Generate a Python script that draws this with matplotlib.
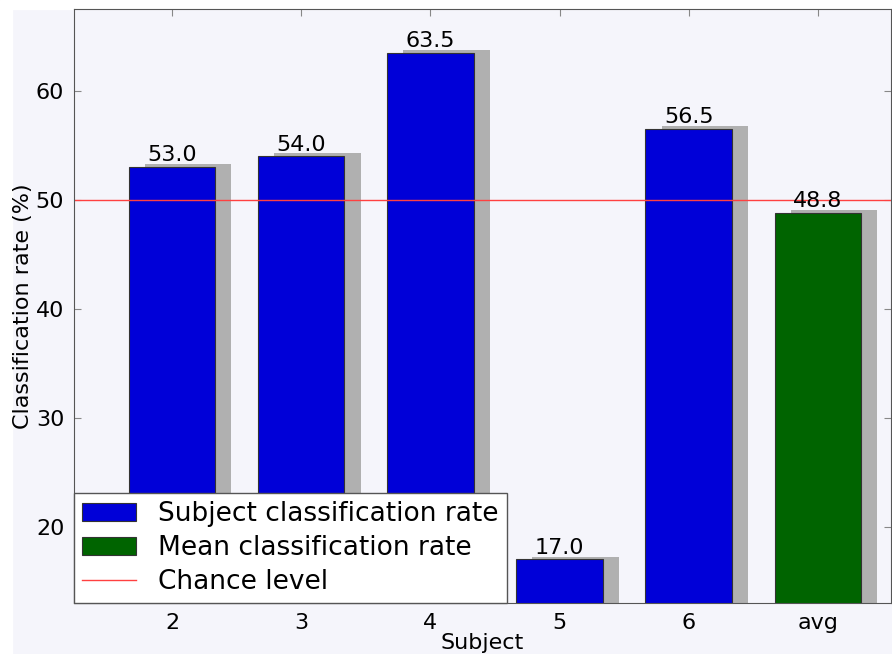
import numpy as np
import matplotlib
matplotlib.use('Agg')
from matplotlib import pyplot as plt
from matplotlib.patches import Patch, Rectangle
from matplotlib.lines import Line2D

subjects = ['2', '3', '4', '5', '6', 'avg']
rates = [53.0, 54.0, 63.5, 17.0, 56.5, 48.8]
bar_colors = ['#0000d8', '#0000d8', '#0000d8', '#0000d8', '#0000d8', '#006400']
chance = 50

bg = '#f5f5fb'
fig = plt.figure(figsize=(8.92, 6.54), dpi=100, facecolor=bg)
ax = fig.add_axes([74 / 892, 51 / 654, 817 / 892, 594 / 654])
ax.set_facecolor(bg)

# white border strips like the original screenshot
fig.patches.append(Rectangle((0, 645 / 654), 1, 9 / 654, transform=fig.transFigure,
                             color='white', zorder=-1))
fig.patches.append(Rectangle((0, 0), 12 / 892, 1, transform=fig.transFigure,
                             color='white', zorder=-1))

x = np.arange(len(subjects))
width = 0.67

# shadows
ax.bar(x + 0.125, np.array(rates) + 0.25, width, color='#b0b0b0', linewidth=0, zorder=1)
bars = ax.bar(x, rates, width, color=bar_colors, edgecolor='#333333', linewidth=0.8, zorder=2)

for xi, v in zip(x, rates):
    ax.text(xi, v + 0.15, '%.1f' % v, ha='center', va='bottom', fontsize=16, zorder=3)

ax.axhline(chance, color='#ff4040', linewidth=1, zorder=2.5)

ax.set_xlim(-0.758, 5.565)
ax.set_ylim(13, 67.5)
ax.set_xticks(x)
ax.set_xticklabels(subjects)
ax.set_yticks([20, 30, 40, 50, 60])
ax.tick_params(direction='in', top=True, right=True, labelsize=16, length=5,
               color='#888888', pad=7)
for s in ax.spines.values():
    s.set_color('#555555')

ax.set_xlabel('Subject', fontsize=16, labelpad=0)
ax.set_ylabel('Classification rate (%)', fontsize=16, labelpad=2)

handles = [Patch(facecolor='#0000d8', edgecolor='#333333', linewidth=0.8),
           Patch(facecolor='#006400', edgecolor='#333333', linewidth=0.8),
           Line2D([0], [0], color='#ff4040', linewidth=1)]
labels = ['Subject classification rate', 'Mean classification rate', 'Chance level']
leg = ax.legend(handles, labels, loc='lower left', borderaxespad=0, fontsize=19,
                fancybox=False, framealpha=1, edgecolor='#555555', handlelength=2.05,
                handleheight=0.7, handletextpad=0.85, borderpad=0.3, labelspacing=0.3)
leg.get_frame().set_linewidth(1)
leg.set_zorder(5)

fig.savefig('out.png', dpi=100, facecolor=bg)
